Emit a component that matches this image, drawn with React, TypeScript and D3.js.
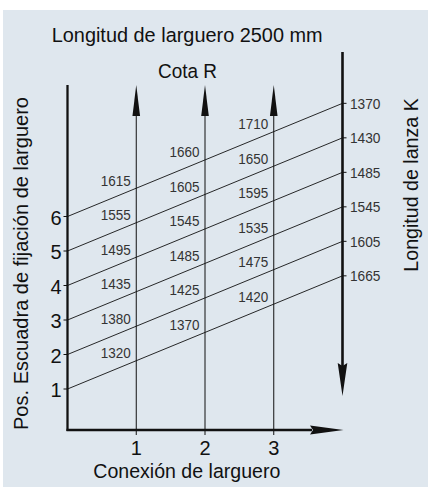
import React from "react";
import * as d3 from "d3";

const connections = [1, 2, 3];
const positions = [1, 2, 3, 4, 5, 6];
const lanzaK = [1665, 1605, 1545, 1485, 1430, 1370];
const cotaR1 = [1320, 1380, 1435, 1495, 1555, 1615];
const cotaR2 = [1370, 1425, 1485, 1545, 1605, 1660];
const cotaR3 = [1420, 1475, 1535, 1595, 1650, 1710];
const cotaR = [cotaR1, cotaR2, cotaR3];
const slope = 0.82; // rise in position units per connection unit
const xEnd = 4;

const title = "Longitud de larguero 2500 mm";
const subTitle = "Cota R";
const xTitle = "Conexión de larguero";
const yTitle = "Pos. Escuadra de fijación de larguero";
const y2Title = "Longitud de lanza K";

const W = 428;
const H = 491;
const BG = "#dfe7ee";
const INK = "#111";
const FONT = "'Liberation Sans Narrow', 'Liberation Sans', Arial, sans-serif";

export default function App() {
  const x = d3.scaleLinear().domain([0, xEnd]).range([67.5, 342.5]);
  const y = d3.scaleLinear().domain([0, 10]).range([423.5, 78.5]);
  const line = d3.line<[number, number]>().x((d) => x(d[0])).y((d) => y(d[1]));

  const x0 = x(0);
  const xR = x(xEnd);
  const yBase = 430;

  return (
    <svg
      width={W}
      height={H}
      style={{ position: "absolute", left: 0, top: 0, display: "block" }}
      fontFamily={FONT}
    >
      <rect x={0} y={0} width={W} height={H} fill="#fff" />
      <rect x={3} y={10} width={W - 3} height={477} fill={BG} />

      {/* diagonal lines */}
      {positions.map((p) => (
        <path
          key={"l" + p}
          d={line([[0, p], [xEnd, p + slope * xEnd]]) || ""}
          fill="none"
          stroke={INK}
          strokeWidth={0.9}
        />
      ))}
      {/* left ticks */}
      {positions.map((p) => (
        <line key={"lt" + p} x1={x0 - 4} x2={x0} y1={y(p)} y2={y(p)} stroke={INK} strokeWidth={1} />
      ))}
      {/* right ticks */}
      {positions.map((p) => (
        <line
          key={"rt" + p}
          x1={xR}
          x2={xR + 4}
          y1={y(p + slope * xEnd)}
          y2={y(p + slope * xEnd)}
          stroke={INK}
          strokeWidth={1}
        />
      ))}

      {/* vertical connection arrows */}
      {connections.map((c) => (
        <g key={"v" + c}>
          <line x1={x(c)} x2={x(c)} y1={114} y2={435} stroke={INK} strokeWidth={1} />
          <path
            d={`M${x(c)},85 L${x(c) + 3.8},116 L${x(c) - 3.8},116 Z`}
            fill={INK}
          />
        </g>
      ))}

      {/* left axis */}
      <line x1={x0} x2={x0} y1={85} y2={yBase + 1} stroke={INK} strokeWidth={2.3} />
      {/* bottom axis */}
      <line x1={x0 - 1} x2={312} y1={yBase} y2={yBase} stroke={INK} strokeWidth={2.4} />
      <path d={`M${xR + 1},${yBase} L310,${yBase - 4.6} L313,${yBase} L310,${yBase + 4.6} Z`} fill={INK} />
      {/* right axis */}
      <line x1={xR} x2={xR} y1={52} y2={366} stroke={INK} strokeWidth={2.6} />
      <path d={`M${xR},396 L${xR - 4.8},363 L${xR},366 L${xR + 4.8},363 Z`} fill={INK} />

      {/* cota R labels */}
      {connections.map((c, ci) =>
        positions.map((p, pi) => (
          <text
            key={`c${c}-${p}`}
            x={x(c) - 5.5}
            y={y(p + slope * c) - 2.5}
            textAnchor="end"
            fontSize={15.5}
            fill="#333"
            textLength={30}
            lengthAdjust="spacingAndGlyphs"
          >
            {cotaR[ci][pi]}
          </text>
        ))
      )}

      {/* lanza K labels */}
      {positions.map((p, pi) => (
        <text
          key={"k" + p}
          x={xR + 7.5}
          y={y(p + slope * xEnd) + 5.5}
          fontSize={15.5}
          fill="#333"
          textLength={30.5}
          lengthAdjust="spacingAndGlyphs"
        >
          {lanzaK[pi]}
        </text>
      ))}

      {/* left position ticks labels */}
      {positions.map((p) => (
        <text key={"pl" + p} x={61.5} y={y(p) + 8} textAnchor="end" fontSize={20} fill={INK}>
          {p}
        </text>
      ))}
      {/* bottom labels */}
      {connections.map((c) => (
        <text key={"bl" + c} x={x(c)} y={455} textAnchor="middle" fontSize={20} fill={INK}>
          {c}
        </text>
      ))}

      {/* titles */}
      <text x={51.7} y={41.7} fontSize={20.5} fill={INK} textLength={271} lengthAdjust="spacingAndGlyphs">
        {title}
      </text>
      <text x={158} y={78.3} fontSize={20.5} fill={INK} textLength={59} lengthAdjust="spacingAndGlyphs">
        {subTitle}
      </text>
      <text x={93.3} y={478} fontSize={20.5} fill={INK} textLength={187} lengthAdjust="spacingAndGlyphs">
        {xTitle}
      </text>
      <text
        transform={`translate(28,430) rotate(-90)`}
        x={0}
        y={0}
        fontSize={20.5}
        fill={INK}
        textLength={333}
        lengthAdjust="spacingAndGlyphs"
      >
        {yTitle}
      </text>
      <text
        transform={`translate(417.5,271.7) rotate(-90)`}
        x={0}
        y={0}
        fontSize={20.5}
        fill={INK}
        textLength={173.5}
        lengthAdjust="spacingAndGlyphs"
      >
        {y2Title}
      </text>
    </svg>
  );
}
